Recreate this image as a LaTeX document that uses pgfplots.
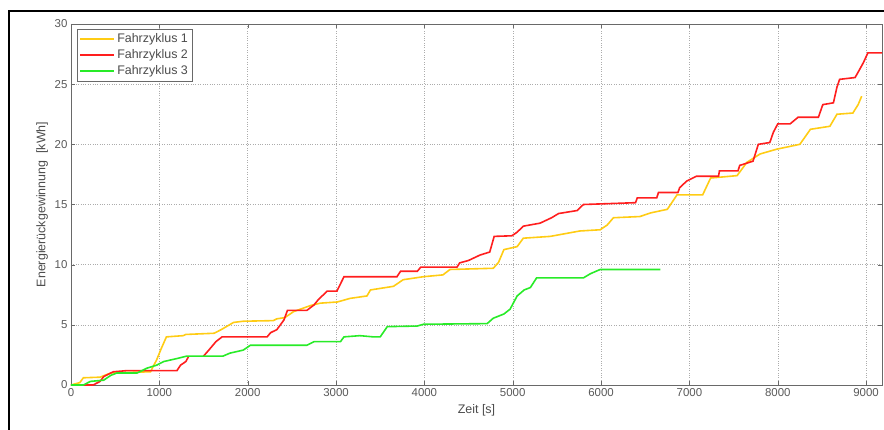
\documentclass[border=0pt]{standalone}
\usepackage{fontspec}
\setmainfont{Liberation Sans}
\usepackage{pgfplots}
\pgfplotsset{compat=1.18}
\definecolor{fz1}{RGB}{255,204,20}
\definecolor{fz2}{RGB}{255,30,30}
\definecolor{fz3}{RGB}{40,235,40}
\definecolor{axgray}{RGB}{105,105,105}
\begin{document}
\begin{tikzpicture}
\useasboundingbox (-71bp,-45bp) rectangle (813bp,385bp);
\draw[line width=1.5bp] (-62bp,-46bp) -- (-62bp,374bp) -- (814bp,374bp);
\begin{axis}[
  scale only axis, width=811bp, height=361bp,
  xmin=0, xmax=9180, ymin=0, ymax=30,
  xtick={0,1000,...,9000}, ytick={0,5,...,30},
  grid=major, grid style={dotted, gray!65},
  axis line style={axgray}, tick style={axgray},
  major tick length=4bp,
  ticklabel style={font=\fontsize{11.5}{13}\selectfont, text=black!65},
  /pgf/number format/assume math mode=true,
  /pgf/number format/1000 sep={},
  xlabel={Zeit [s]}, ylabel={Energierückgewinnung~~[kWh]},
  xlabel style={yshift=-1bp},
  label style={font=\fontsize{12.5}{14}\selectfont, text=black!70},
  unbounded coords=jump,
  legend style={at={(0,1)}, anchor=north west, xshift=6bp, yshift=-5bp,
    draw=axgray, font=\fontsize{12.5}{14}\selectfont, text=black!70,
    inner sep=2.5bp, row sep=1.5bp},
  legend cell align=left,
  legend image code/.code={\draw[#1] (0bp,0bp) -- (34bp,0bp);},
]
\addplot[fz1, line width=1.6bp] coordinates {
(0,0) (100,0.2) (140,0.6) (330,0.65) (450,1.0) (900,1.1) (970,2.1) (1020,3.0) (1080,4.0) (1270,4.1) (1300,4.2) (1620,4.3) (1700,4.6) (1840,5.2) (1950,5.3) (2290,5.35) (2330,5.5) (2420,5.6) (2520,6.1) (2710,6.6) (2820,6.8) (3015,6.9) (3160,7.2) (3350,7.4) (3390,7.9) (3650,8.2) (3760,8.75) (3990,9.0) (4210,9.15) (4290,9.6) (4780,9.7) (4840,10.2) (4900,11.25) (5050,11.5) (5120,12.2) (5425,12.35) (5760,12.8) (5990,12.9) (6070,13.3) (6140,13.9) (6440,14.0) (6560,14.3) (6750,14.6) (6860,15.8) (7150,15.8) (7240,17.2) (7540,17.4) (7650,18.5) (7800,19.2) (7990,19.6) (8250,20.0) (8370,21.25) (8590,21.5) (8670,22.5) (8850,22.6) (8910,23.3) (8950,24.0)
};
\addlegendentry{Fahrzyklus 1}
\addplot[fz2, line width=1.6bp] coordinates {
(0,0) (250,0) (330,0.3) (370,0.7) (480,1.1) (640,1.2) (1200,1.2) (1240,1.65) (1300,1.95) (1330,2.35) (1400,nan) (1500,2.4) (1560,2.9) (1640,3.6) (1710,4.0) (2220,4.0) (2260,4.35) (2330,4.6) (2410,5.4) (2450,6.2) (2670,6.2) (2750,6.65) (2800,7.1) (2900,7.8) (3010,7.8) (3090,9.0) (3690,9.0) (3730,9.45) (3920,9.45) (3960,9.8) (4370,9.8) (4400,10.15) (4500,10.35) (4630,10.8) (4740,11.05) (4790,12.35) (4990,12.4) (5050,12.7) (5120,13.2) (5310,13.45) (5440,13.9) (5520,14.25) (5730,14.5) (5800,15.0) (6390,15.15) (6410,15.55) (6630,15.55) (6650,16.0) (6870,16.0) (6890,16.4) (6970,16.95) (7080,17.35) (7330,17.35) (7340,17.8) (7550,17.8) (7570,18.25) (7720,18.6) (7780,20.0) (7910,20.15) (7950,21.0) (8000,21.7) (8140,21.7) (8230,22.25) (8460,22.25) (8510,23.3) (8630,23.45) (8670,24.75) (8700,25.4) (8875,25.55) (8910,26.0) (8970,26.8) (9020,27.6) (9180,27.6)
};
\addlegendentry{Fahrzyklus 2}
\addplot[fz3, line width=1.6bp] coordinates {
(0,0) (140,0) (220,0.3) (370,0.4) (450,0.8) (520,1.0) (750,1.0) (860,1.4) (970,1.65) (1050,1.95) (1200,2.2) (1310,2.4) (1720,2.4) (1800,2.65) (1950,2.9) (2030,3.3) (2670,3.3) (2750,3.6) (3050,3.6) (3090,4.0) (3270,4.1) (3420,4.0) (3500,4.0) (3580,4.85) (3920,4.9) (3990,5.05) (4710,5.1) (4780,5.55) (4900,5.9) (4970,6.3) (5050,7.4) (5130,7.9) (5200,8.1) (5270,8.9) (5800,8.9) (5880,9.25) (5990,9.6) (6670,9.6)
};
\addlegendentry{Fahrzyklus 3}
\end{axis}
\end{tikzpicture}
\end{document}
